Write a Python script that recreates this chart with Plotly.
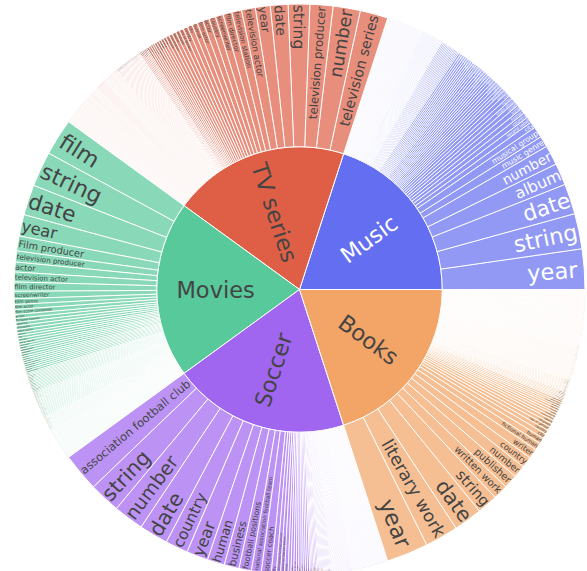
import plotly.graph_objects as go

# ---------------- data ----------------
categories = ["Music", "TV series", "Movies", "Soccer", "Books"]
category_totals = [1000, 1000, 1000, 1000, 1000]
category_colors = ["#636EF0", "#DE5F45", "#58C99B", "#A066F0", "#F2A566"]

# readable (labelled) value types per category, largest first
music_named = ["year", "string", "date", "album", "number", "music genre", "musical group",
               "city", "record label", "country", "human", "song", "single", "studio album"]
music_named_values = [114, 100, 86, 62, 56, 31, 31, 18, 17, 15, 14, 14, 12, 12]
music_minor_values = [11, 11, 10, 8, 8, 8, 8, 8, 8, 7, 7, 7, 7, 7, 7, 7, 7,
                      6, 6, 6, 6, 6, 6, 6, 6, 6, 6,
                      4, 4, 4, 4, 4, 4, 4, 4, 4, 4, 4, 4, 4, 4]
music_tail_runs = [(2, 30), (1, 106)]

tv_named = ["television series", "number", "television producer", "string", "date", "year",
            "television actor", "television station", "film director", "screenwriter",
            "country", "actor", "film actor"]
tv_named_values = [79, 77, 65, 61, 50, 42, 39, 28, 25, 22, 19, 18, 17]
tv_minor_values = [15, 14, 13, 12, 11, 11, 10, 10, 8, 8, 7, 7, 7, 6, 6, 6, 6,
                   4, 4, 4, 4, 4, 4]
tv_tail_runs = [(2, 40), (1, 197)]

movies_named = ["film", "string", "date", "year", "Film producer", "television producer",
                "actor", "television actor", "film director", "screenwriter", "Film genre",
                "film actor", "film score composer", "writer", "fictional human", "country",
                "character", "voice actor"]
movies_named_values = [104, 99, 86, 61, 42, 31, 28, 28, 26, 21, 16, 14, 14, 11, 11, 10, 10, 10]
movies_minor_values = [8, 8, 8, 8, 7, 7, 7, 7, 7, 6, 6, 6, 6, 6, 6, 6, 6,
                       4, 4, 4, 4, 4, 4, 4, 4, 4, 4, 4, 4, 4, 4,
                       3, 3, 3, 3, 3, 3, 3, 3, 3, 3, 3, 3, 3, 3, 3, 3, 3, 3, 3, 3, 3, 3, 3, 3, 3]
movies_tail_runs = [(2, 20), (1, 92)]

soccer_named = ["association football club", "string", "number", "date", "country", "year",
                "human", "business", "football positions", "national association football team",
                "soccer coach", "city", "association football venue", "association football player"]
soccer_named_values = [108, 88, 86, 82, 64, 61, 49, 42, 35, 28, 28, 14, 12, 11]
soccer_minor_values = [10, 8, 8, 7, 7, 7, 6, 6, 6, 6, 4, 4, 4, 4, 4, 4,
                       3, 3, 3, 3, 3, 3, 3, 3, 3, 3, 3, 3]
soccer_tail_runs = [(2, 30), (1, 101)]

books_named = ["year", "literary work", "date", "string", "written work", "publisher", "number",
               "country", "writer", "fictional human"]
books_named_values = [118, 94, 81, 58, 42, 39, 35, 31, 28, 21]
books_minor_values = [17, 14, 12, 11, 10, 10, 8, 8, 7, 7, 7, 6, 6, 6, 6,
                      4, 4, 4, 4, 4, 4, 3, 3, 3, 3, 3, 3, 3, 3, 3, 3, 3, 3]
books_tail_runs = [(2, 50), (1, 158)]

# names of the many rare value types (too small to read in the picture)
minor_type_names = ["human", "city", "country", "sex or gender", "language", "award", "organization",
                    "company", "genre", "location", "building", "university", "musical instrument",
                    "ethnic group", "occupation", "religion", "political party", "town", "village",
                    "municipality", "sports team", "stadium", "league", "season", "event", "character",
                    "publisher", "book", "novel", "literary genre", "magazine", "newspaper",
                    "television channel", "broadcaster", "episode", "film festival", "award ceremony",
                    "position", "sport", "club", "coach", "venue", "state", "province", "region",
                    "continent", "river", "mountain", "island", "family name", "given name", "color",
                    "style", "movement", "school", "painting", "software", "website", "quantity",
                    "time", "monolingual text", "external identifier", "media file", "coordinates"]

groups = [
    ("Music", music_named, music_named_values, music_minor_values, music_tail_runs),
    ("TV series", tv_named, tv_named_values, tv_minor_values, tv_tail_runs),
    ("Movies", movies_named, movies_named_values, movies_minor_values, movies_tail_runs),
    ("Soccer", soccer_named, soccer_named_values, soccer_minor_values, soccer_tail_runs),
    ("Books", books_named, books_named_values, books_minor_values, books_tail_runs),
]

# ---------------- build hierarchy ----------------
ids, labels, parents, values = [], [], [], []
for cat, total in zip(categories, category_totals):
    ids.append(cat)
    labels.append(cat)
    parents.append("")
    values.append(total)

for cat, named, named_vals, minor_vals, tail_runs in groups:
    for lab, v in zip(named, named_vals):
        ids.append(f"{cat}/{lab}")
        labels.append(lab)
        parents.append(cat)
        values.append(v)
    minor = list(minor_vals)
    for v, n in tail_runs:
        minor += [v] * n
    for k, v in enumerate(minor):
        ids.append(f"{cat}/minor{k}")
        labels.append(minor_type_names[k % len(minor_type_names)])
        parents.append(cat)
        values.append(v)

fig = go.Figure(go.Sunburst(
    ids=ids,
    labels=labels,
    parents=parents,
    values=values,
    branchvalues="total",
    textfont=dict(size=22.5),
    insidetextorientation="radial",
))
fig.update_layout(
    width=587, height=571,
    margin=dict(l=0, r=0, t=0, b=0),
    paper_bgcolor="white",
    font=dict(family="DejaVu Sans"),
    sunburstcolorway=category_colors,
)
fig.write_html(
    "out.html",
    post_script="document.body.style.margin='4px 0 0 6px';document.body.style.overflow='hidden';",
)
